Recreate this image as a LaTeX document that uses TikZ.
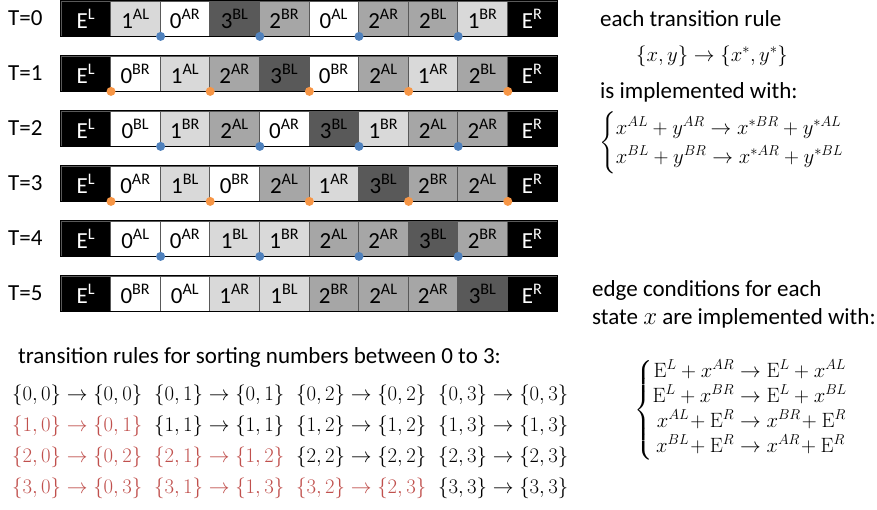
\documentclass[tikz,border=0pt]{standalone}
\usepackage{amsmath}
\usepackage[no-math]{fontspec}
\setmainfont{Carlito}
\usetikzlibrary{positioning}
\definecolor{Grey1}{HTML}{D9D9D9}
\definecolor{Grey2}{HTML}{A6A6A6}
\definecolor{Grey3}{HTML}{595959}
\definecolor{DotBlue}{HTML}{4F81BD}
\definecolor{DotOrange}{HTML}{F79646}
\definecolor{RuleRed}{HTML}{C0504D}

\tikzset{
  cell/.style={draw=Grey3, line width=0.8pt, minimum width=49.6pt, minimum height=35pt,
    inner sep=0pt, font=\fontsize{23}{26}\selectfont},
  num0/.style={cell, fill=white},
  num1/.style={cell, fill=Grey1},
  num2/.style={cell, fill=Grey2},
  num3/.style={cell, fill=Grey3},
  numE/.style={cell, fill=black, text=white},
  tdot/.style={circle, fill=#1, inner sep=0pt, minimum size=9pt},
  txt/.style={font=\fontsize{23}{28}\selectfont, inner sep=0pt, anchor=west},
  ruletxt/.style={font=\fontsize{20}{24}\selectfont, inner sep=0pt, anchor=west},
}

\begin{document}
\begin{tikzpicture}[x=1pt, y=-1pt]
    \useasboundingbox (0,0) rectangle (877,509);

    % Tapes, one row per time step
    \foreach \t/\cells in {
        0/{1/AL,0/AR,3/BL,2/BR,0/AL,2/AR,2/BL,1/BR},
        1/{0/BR,1/AL,2/AR,3/BL,0/BR,2/AL,1/AR,2/BL},
        2/{0/BL,1/BR,2/AL,0/AR,3/BL,1/BR,2/AL,2/AR},
        3/{0/AR,1/BL,0/BR,2/AL,1/AR,3/BL,2/BR,2/AL},
        4/{0/AL,0/AR,1/BL,1/BR,2/AL,2/AR,3/BL,2/BR},
        5/{0/BR,0/AL,1/AR,1/BL,2/BR,2/AL,2/AR,3/BL}}{
      \node[txt] (T\t) at (8,{18.5+55*\t}) {T=\t};
      \node[numE] (c\t-0) at (85.8,{18.5+55*\t}) {E\textsuperscript{L}};
      \foreach \n/\s [count=\i] in \cells
        \node[num\n] (c\t-\i) at ({85.8+49.6*\i},{18.5+55*\t}) {\n\textsuperscript{\s}};
      \node[numE] (c\t-9) at ({85.8+49.6*9},{18.5+55*\t}) {E\textsuperscript{R}};
      \draw[line width=1.2pt] (c\t-0.north west) rectangle (c\t-9.south east);
    }

    % Pairs that meet at each step
    \foreach \t in {0,2,4}
      \foreach \i in {1,3,5,7}
        \node[tdot=DotBlue] (d\t-\i) at (c\t-\i.south east) {};
    \foreach \t in {1,3}
      \foreach \i in {0,2,4,6,8}
        \node[tdot=DotOrange] (d\t-\i) at (c\t-\i.south east) {};

    % Rule explanation
    \node[txt] (each) at (600,19) {each transition rule};
    \node[font=\fontsize{22}{28}\selectfont, inner sep=0pt] (xy) at (712,56)
      {$\{x,y\}\to\{x^*,y^*\}$};
    \node[txt] (impl) at (600,92) {is implemented with:};
    \node[txt, font=\fontsize{22}{29}\selectfont] (casesA) at (599,143)
      {$\left\{\begin{array}{@{}l@{}}
        x^{AL}+y^{AR}\to x^{*BR}+y^{*AL}\\
        x^{BL}+y^{BR}\to x^{*AR}+y^{*BL}
      \end{array}\right.$};

    % Edge conditions
    \node[txt] (edge1) at (592,290) {edge conditions for each};
    \node[txt] (edge2) at (592,318) {state $x$ are implemented with:};
    \node[txt, font=\fontsize{22}{25}\selectfont] (casesB) at (634,410)
      {$\left\{\begin{array}{@{}r@{}l@{}}
        \mathrm{E}^L+x^{AR} & {}\to\mathrm{E}^L+x^{AL}\\
        \mathrm{E}^L+x^{BR} & {}\to\mathrm{E}^L+x^{BL}\\
        x^{AL}\!+\mathrm{E}^R & {}\to x^{BR}\!+\mathrm{E}^R\\
        x^{BL}\!+\mathrm{E}^R & {}\to x^{AR}\!+\mathrm{E}^R
      \end{array}\right.$};

    % Sorting rules
    \node[txt] (sortcap) at (18,357) {transition rules for sorting numbers between 0 to 3:};
    \foreach \a in {0,...,3}
      \foreach \b in {0,...,3}{
        \pgfmathtruncatemacro\lo{min(\a,\b)}
        \pgfmathtruncatemacro\hi{max(\a,\b)}
        \def\rulecol{black}
        \ifnum\a>\b \def\rulecol{RuleRed}\fi
        \node[ruletxt, text=\rulecol] (r\a\b) at ({12+142*\b},{395+31*\a})
          {$\{\a,\b\}\to\{\lo,\hi\}$};
      }
\end{tikzpicture}
\end{document}
